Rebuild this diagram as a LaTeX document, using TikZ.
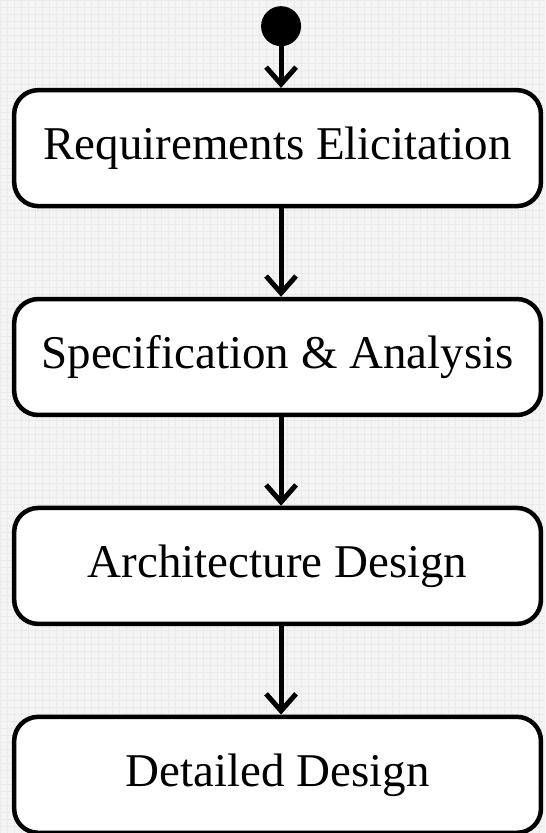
\documentclass[tikz,border=0pt]{standalone}
\usepackage{fontspec}
\setmainfont{Liberation Serif}
\usetikzlibrary{positioning,arrows.meta}
\definecolor{paper}{HTML}{F4F4F4}
\definecolor{paperline}{HTML}{EAEAEA}

\begin{document}
\begin{tikzpicture}[x=1pt,y=1pt,
    phase/.style={draw, rectangle, rounded corners=24pt, line width=4.5pt, fill=white,
        minimum width=527pt, minimum height=116pt, font=\fontsize{47}{56}\selectfont},
    flow/.style={line width=5pt, -{Straight Barb[length=17pt,width=30pt]}},
    node distance=88.5pt]
    % Background
    \fill[paper] (0,0) rectangle (545,833);
    \draw[paperline, line width=0.4pt, step=7pt] (0,0) grid (545,833);
    \useasboundingbox (0,0) rectangle (545,833);

    % Start
    \node[circle, fill=black, minimum size=40pt, inner sep=0pt] (start) at (281,807) {};

    % Phases
    \node[phase] (req) at (277.5,685) {Requirements Elicitation};
    \node[phase, below=of req] (spec) {Specification \& Analysis};
    \node[phase, below=of spec] (arch) {Architecture Design};
    \node[phase, below=of arch] (detail) {Detailed Design};

    % Flow
    \draw[flow] (start) -- (start |- req.north);
    \draw[flow] (req.south -| start) -- (spec.north -| start);
    \draw[flow] (spec.south -| start) -- (arch.north -| start);
    \draw[flow] (arch.south -| start) -- (detail.north -| start);
\end{tikzpicture}
\end{document}
